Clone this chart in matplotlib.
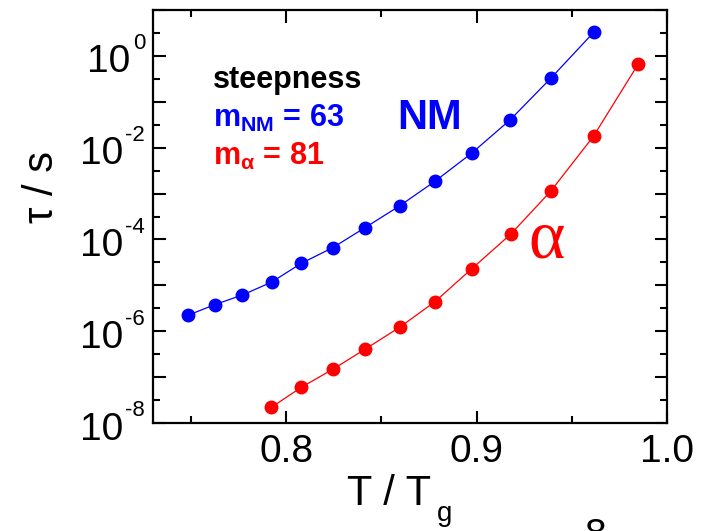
import matplotlib
matplotlib.use("Agg")
import matplotlib.pyplot as plt
from matplotlib.ticker import FixedLocator, NullFormatter
from matplotlib.transforms import ScaledTranslation
import numpy as np

plt.rcParams['font.family'] = ['Liberation Sans', 'DejaVu Sans']
plt.rcParams['mathtext.fontset'] = 'custom'
plt.rcParams['mathtext.rm'] = 'Liberation Sans'
plt.rcParams['mathtext.it'] = 'Liberation Sans:italic'
plt.rcParams['mathtext.bf'] = 'Liberation Sans:bold'

# Data (T/Tg, log10 tau)
t_nm = [0.7485, 0.7625, 0.7770, 0.7923, 0.8079, 0.8244, 0.8415, 0.8595, 0.8782, 0.8974, 0.9177, 0.9389, 0.9614]
logtau_nm = [-5.65, -5.42, -5.21, -4.93, -4.52, -4.18, -3.74, -3.27, -2.73, -2.12, -1.39, -0.49, 0.51]
t_alpha = [0.7921, 0.8080, 0.8244, 0.8415, 0.8597, 0.8780, 0.8974, 0.9178, 0.9389, 0.9614, 0.9850]
logtau_alpha = [-7.66, -7.22, -6.83, -6.39, -5.91, -5.36, -4.64, -3.89, -2.95, -1.75, -0.17]
x_ticks = [0.8, 0.9, 1.0]
x_tick_labels = ['0.8', '0.9', '1.0']
y_label_exponents = [0, -2, -4, -6, -8]

tau_nm = 10.0 ** np.array(logtau_nm)
tau_alpha = 10.0 ** np.array(logtau_alpha)

fig = plt.figure(figsize=(7.2, 5.31), dpi=100)
ax = fig.add_axes([153/720, 1 - 423/531, (667 - 153)/720, (423 - 10)/531])

ax.plot(t_nm, tau_nm, '-', color='#0000ff', lw=0.9, marker='o', ms=9, mec='#0000ff', mfc='#0000ff')
ax.plot(t_alpha, tau_alpha, '-', color='#ff0000', lw=0.9, marker='o', ms=9, mec='#ff0000', mfc='#ff0000')

ax.set_yscale('log')
ax.set_xlim(0.73, 1.0)
ax.set_ylim(1e-8, 1e1)

ax.xaxis.set_major_locator(FixedLocator(x_ticks))
ax.set_xticklabels(x_tick_labels)
ax.xaxis.set_minor_locator(FixedLocator([0.75, 0.85, 0.95]))

ax.yaxis.set_major_locator(FixedLocator([10.0 ** k for k in range(-8, 2)]))
ax.yaxis.set_minor_locator(FixedLocator([10.0 ** (k + 0.5) for k in range(-8, 1)]))
ax.yaxis.set_major_formatter(NullFormatter())
ax.yaxis.set_minor_formatter(NullFormatter())

for s in ax.spines.values():
    s.set_linewidth(1.6)
ax.tick_params(which='both', direction='in', top=True, right=True, width=1.5, labelsize=28)
ax.tick_params(which='major', length=9, pad=8)
ax.tick_params(which='minor', length=5)

# y tick labels: "10" with a large superscript exponent (short hyphen minus)
ytrans = ax.get_yaxis_transform()
for e in y_label_exponents:
    sup = ax.text(0, 10.0 ** e, '%d' % e, fontsize=16, ha='right', va='baseline',
                  transform=ytrans + ScaledTranslation(-0.08, 0.065, fig.dpi_scale_trans))
    ax.annotate('10', xy=(0, 10.0 ** e), xycoords=(sup, ytrans),
                xytext=(-1.5, -0.165 * 72), textcoords='offset points',
                ha='right', va='baseline', fontsize=28, annotation_clip=False)

# axis labels
fig.text(42/720, 1 - 187/531, 'τ / s', rotation=90, fontsize=30, ha='center', va='center')
fig.text(347/720, 1 - 505/531, 'T / T', fontsize=30, ha='left', va='baseline')
fig.text(437/720, 1 - 521/531, 'g', fontsize=20, ha='left', va='baseline')

ax.text(213, 531 - 88, 'steepness', transform=None, fontsize=22, fontweight='bold', color='black')
ax.text(213, 531 - 127, r'm$_{\mathbf{NM}}$ = 63', transform=None, fontsize=22, fontweight='bold', color='#0000ff')
ax.text(213, 531 - 165, r'm$_{\mathbf{\alpha}}$ = 81', transform=None, fontsize=22, fontweight='bold', color='#ff0000')
ax.text(430, 531 - 118, 'NM', transform=None, fontsize=30, fontweight='bold', color='#0000ff', ha='center', va='center')
ax.text(547, 531 - 241, 'α', transform=None, fontsize=50, color='#ff0000', ha='center', va='center',
        family=['Liberation Serif'])

fig.text(595/720, 1 - 518/531, '8', fontsize=28, ha='center', va='top')

fig.savefig('out.png', dpi=100)
